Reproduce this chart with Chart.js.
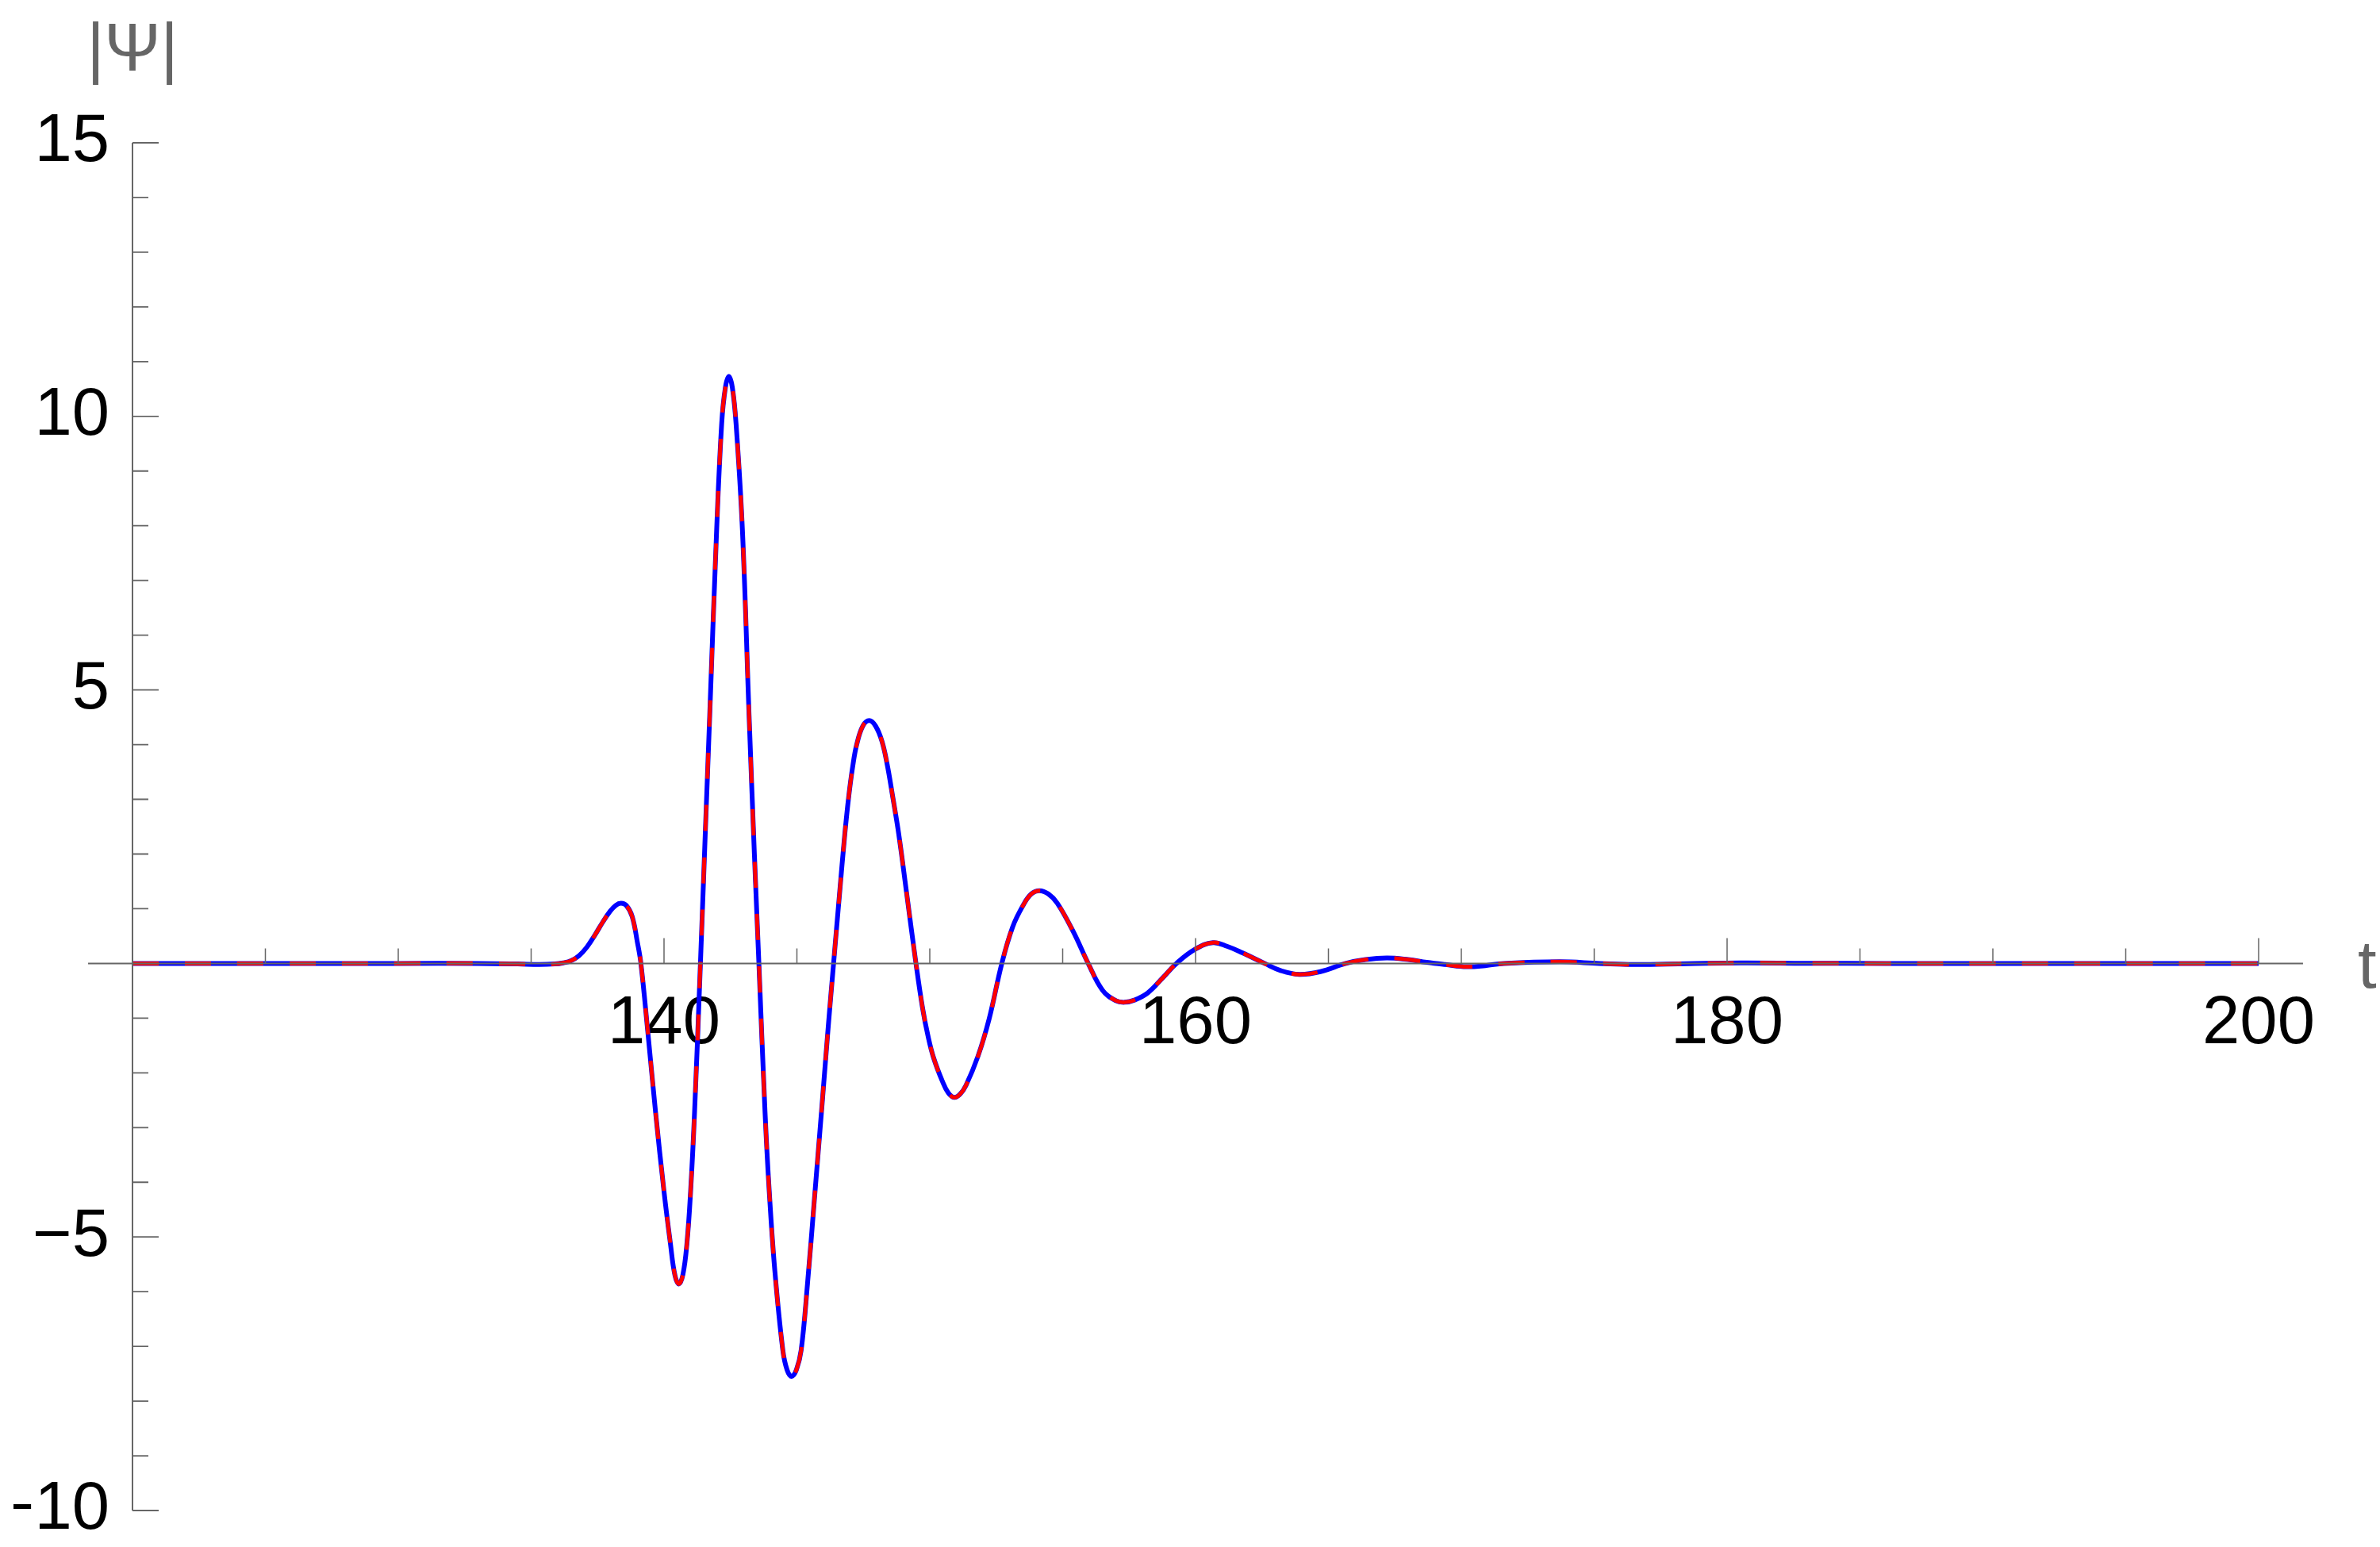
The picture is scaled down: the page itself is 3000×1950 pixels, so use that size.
<!DOCTYPE html>
<html>
<head>
<meta charset="utf-8">
<script src="https://cdn.jsdelivr.net/npm/chart.js@4.4.1/dist/chart.umd.min.js"></script>
<style>
html,body{margin:0;padding:0;background:#fff;}
canvas{display:block;}
</style>
</head>
<body>
<canvas id="c" width="3000" height="1950" style="width:3000px;height:1950px"></canvas>
<script>
// ---- data ----
const tValues = [120, 125, 130, 133, 134.5, 135.3, 135.9, 136.2, 136.5, 136.8, 137.1, 137.4, 137.7, 137.95,
  138.18, 138.38, 138.58, 138.8, 139.0, 139.13, 139.4, 139.68, 140.0, 140.24, 140.41, 140.56, 140.71,
  140.86, 141.0, 141.15, 141.37, 141.55, 141.72, 141.97, 142.17, 142.31, 142.44, 142.57, 142.71, 142.95,
  143.2, 143.4, 143.57, 143.8, 143.96, 144.17, 144.47, 144.63, 144.8, 144.98, 145.16, 145.4, 145.66,
  145.96, 146.18, 146.38, 146.6, 146.8, 146.95, 147.1, 147.25, 147.48, 147.72, 147.96, 148.2, 148.4,
  148.59, 148.83, 149.13, 149.48, 149.73, 149.93, 150.14, 150.47, 150.7, 150.92, 151.14, 151.36, 151.81,
  152.23, 152.71, 153.12, 153.51, 153.82, 154.13, 154.46, 154.8, 155.4, 155.96, 156.5, 157.0, 157.33,
  157.7, 158.2, 158.79, 159.28, 159.99, 160.65, 161.2, 161.78, 162.6, 163.2, 163.9, 164.7, 165.65,
  166.4, 167.2, 168.0, 168.7, 169.4, 170.2, 170.9, 171.6, 173.7, 175.2, 176.5, 178.5, 180.5, 183, 186,
  190, 195, 200];

const psiBlue = [0, 0, 0, 0, -0.01, -0.02, -0.01, 0.01, 0.05, 0.14, 0.3, 0.52, 0.76, 0.94,
  1.06, 1.10, 1.06, 0.86, 0.38, 0, -1.3, -2.71, -4.17, -5.12, -5.70, -5.86, -5.69,
  -5.13, -4.17, -2.71, 0, 2.35, 4.54, 7.8, 9.87, 10.53, 10.73, 10.53, 9.87, 7.92,
  4.54, 2.0, 0, -2.71, -4.17, -5.62, -7.07, -7.43, -7.55, -7.43, -7.07, -5.85, -4.3,
  -2.5, -1.15, 0, 1.25, 2.35, 3.05, 3.6, 4.0, 4.34, 4.44, 4.34, 4.06, 3.63,
  3.09, 2.37, 1.28, 0, -0.82, -1.32, -1.72, -2.15, -2.37, -2.45, -2.39, -2.23, -1.70,
  -1.02, 0, 0.67, 1.06, 1.27, 1.33, 1.27, 1.10, 0.58, 0, -0.49, -0.68, -0.71,
  -0.67, -0.54, -0.25, 0, 0.26, 0.38, 0.31, 0.19, 0, -0.13, -0.2, -0.15, 0,
  0.07, 0.10, 0.07, 0.02, -0.02, -0.06, -0.04, 0, 0.03, 0, -0.02, -0.005, 0.008, 0.002, 0,
  0, 0, 0];

const psiRed = [0, 0, 0, 0, -0.01, -0.02, -0.01, 0.01, 0.05, 0.14, 0.3, 0.52, 0.76, 0.94,
  1.06, 1.10, 1.06, 0.86, 0.38, 0, -1.3, -2.71, -4.17, -5.12, -5.70, -5.86, -5.69,
  -5.13, -4.17, -2.71, 0, 2.35, 4.54, 7.8, 9.87, 10.53, 10.73, 10.53, 9.87, 7.92,
  4.54, 2.0, 0, -2.71, -4.17, -5.62, -7.07, -7.43, -7.55, -7.43, -7.07, -5.85, -4.3,
  -2.5, -1.15, 0, 1.25, 2.35, 3.05, 3.6, 4.0, 4.34, 4.44, 4.34, 4.06, 3.63,
  3.09, 2.37, 1.28, 0, -0.82, -1.32, -1.72, -2.15, -2.37, -2.45, -2.39, -2.23, -1.70,
  -1.02, 0, 0.67, 1.06, 1.27, 1.33, 1.27, 1.10, 0.58, 0, -0.49, -0.68, -0.71,
  -0.67, -0.54, -0.25, 0, 0.26, 0.38, 0.31, 0.19, 0, -0.13, -0.2, -0.15, 0,
  0.07, 0.10, 0.07, 0.02, -0.02, -0.06, -0.04, 0, 0.03, 0, -0.02, -0.005, 0.008, 0.002, 0,
  0, 0, 0];

const xLabelTicks = [140, 160, 180, 200];
const xMinorTicks = [125, 130, 135, 140, 145, 150, 155, 160, 165, 170, 175, 180, 185, 190, 195, 200];
const yLabelTicks = [-10, -5, 5, 10, 15];
const yMinorTicks = [-10, -9, -8, -7, -6, -5, -4, -3, -2, -1, 1, 2, 3, 4, 5, 6, 7, 8, 9, 10, 11, 12, 13, 14, 15];
const xAxisLabel = 't';
const yAxisLabel = '|\u03A8|';

// ---- ranges / style ----
const X_MIN = 120, X_MAX = 200, Y_MIN = -10, Y_MAX = 15;
const X_AXIS_FROM = 118.33, X_AXIS_TO = 201.67;
const AXIS_COLOR = '#666666';
const FONT = '"Liberation Sans", Arial, sans-serif';
const FONT_SIZE = 85;

const toPts = arr => tValues.map((t, i) => ({x: t, y: arr[i]}));

const axesPlugin = {
  id: 'mmaAxes',
  afterDatasetsDraw(chart) {
    const {ctx} = chart;
    const xs = chart.scales.x, ys = chart.scales.y;
    const x0 = xs.getPixelForValue(X_MIN);
    const y0 = ys.getPixelForValue(0);
    ctx.save();
    ctx.strokeStyle = AXIS_COLOR;
    ctx.lineCap = 'butt';
    ctx.lineWidth = 2;
    ctx.beginPath();
    ctx.moveTo(xs.getPixelForValue(X_AXIS_FROM), y0);
    ctx.lineTo(xs.getPixelForValue(X_AXIS_TO), y0);
    ctx.moveTo(x0, ys.getPixelForValue(Y_MAX));
    ctx.lineTo(x0, ys.getPixelForValue(Y_MIN));
    ctx.stroke();

    ctx.lineWidth = 1.8;
    ctx.beginPath();
    yMinorTicks.forEach(v => {
      const py = ys.getPixelForValue(v);
      const len = yLabelTicks.includes(v) ? 33 : 20;
      ctx.moveTo(x0, py);
      ctx.lineTo(x0 + len, py);
    });
    ctx.stroke();

    ctx.lineWidth = 1.5;
    ctx.beginPath();
    xMinorTicks.forEach(v => {
      const px = xs.getPixelForValue(v);
      const len = xLabelTicks.includes(v) ? 32 : 19;
      ctx.moveTo(px, y0);
      ctx.lineTo(px, y0 - len);
    });
    ctx.stroke();

    ctx.fillStyle = AXIS_COLOR;
    ctx.font = FONT_SIZE + 'px ' + FONT;
    ctx.textBaseline = 'alphabetic';
    ctx.textAlign = 'center';
    ctx.fillText(yAxisLabel, x0, ys.getPixelForValue(Y_MAX) - 91);
    ctx.textAlign = 'left';
    ctx.fillText(xAxisLabel, xs.getPixelForValue(X_AXIS_TO) + 69, y0 + 31);
    ctx.restore();
  }
};

const zeroPad = s => { s.paddingLeft = 0; s.paddingRight = 0; s.paddingTop = 0; s.paddingBottom = 0; };

new Chart(document.getElementById('c'), {
  type: 'line',
  data: {
    datasets: [
      {
        label: 'red',
        data: toPts(psiRed),
        borderColor: '#ff0000',
        borderWidth: 5,
        borderDash: [33, 33],
        borderCapStyle: 'butt',
        pointRadius: 0,
        fill: false,
        tension: 0.4,
        order: 0
      },
      {
        label: 'blue',
        data: toPts(psiBlue),
        borderColor: '#0000ff',
        borderWidth: 6,
        pointRadius: 0,
        fill: false,
        tension: 0.4,
        order: 1
      }
    ]
  },
  options: {
    responsive: false,
    animation: false,
    devicePixelRatio: 1,
    layout: {padding: {left: 17, right: 153, top: 180, bottom: 46}},
    plugins: {legend: {display: false}, tooltip: {enabled: false}, title: {display: false}},
    scales: {
      x: {
        type: 'linear',
        min: X_MIN, max: X_MAX,
        position: {y: 0},
        grid: {display: false, drawTicks: false},
        border: {display: false},
        afterBuildTicks: s => { s.ticks = xLabelTicks.map(v => ({value: v})); },
        afterFit: s => { s.height = 0; zeroPad(s); },
        ticks: {
          autoSkip: false, maxRotation: 0, minRotation: 0, padding: 26,
          color: '#000000', font: {family: FONT, size: FONT_SIZE},
          callback: v => String(v)
        }
      },
      y: {
        type: 'linear',
        min: Y_MIN, max: Y_MAX,
        position: 'left',
        grid: {display: false, drawTicks: false},
        border: {display: false},
        afterBuildTicks: s => { s.ticks = yLabelTicks.map(v => ({value: v})); },
        afterFit: s => { s.width = 150; zeroPad(s); },
        ticks: {
          autoSkip: false, padding: 29,
          color: '#000000', font: {family: FONT, size: FONT_SIZE},
          callback: v => (v < 0 ? '\u2212' + Math.abs(v) : String(v))
        }
      }
    }
  },
  plugins: [axesPlugin]
});
</script>
</body>
</html>
